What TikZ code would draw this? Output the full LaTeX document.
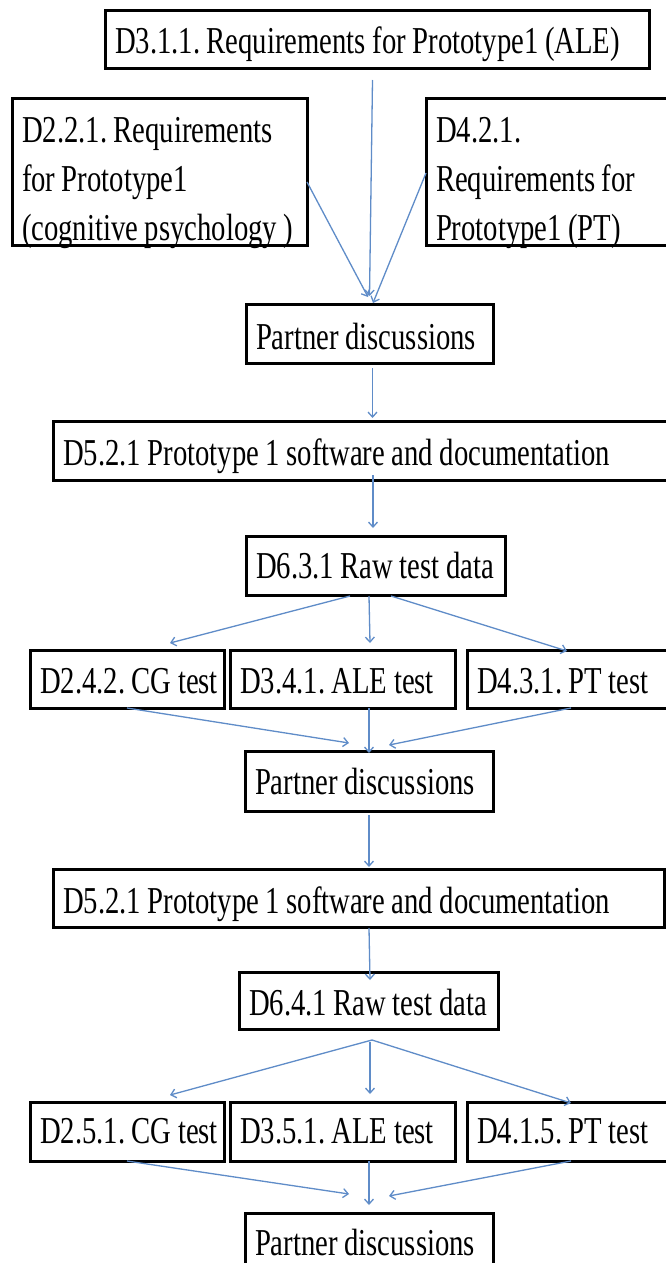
\documentclass[tikz,border=0pt]{standalone}
\usepackage{fontspec}
\setmainfont{Liberation Serif}[FakeStretch=0.755]
\usetikzlibrary{arrows.meta,calc}
\definecolor{arr}{RGB}{95,140,200}
\newcommand{\boxfont}{\fontsize{38}{49}\selectfont\frenchspacing}
\newcommand{\tline}[1]{\mbox{\spaceskip=6.5pt\relax\xspaceskip=6.5pt\relax #1}}
\begin{document}
\begin{tikzpicture}[x=1pt,y=-1pt,
  box/.style={draw=black,line width=3pt,rectangle,anchor=north west,
    inner xsep=10pt,inner ysep=0pt,outer sep=0pt,align=left,
    text height=43pt,font=\boxfont},
  link/.style={draw=arr,line width=1.3pt,-{Straight Barb[length=5pt,width=9pt]}}]
\clip (0,0) rectangle (666,1263);
\fill[white] (0,0) rectangle (666,1263);
% boxes
\node[box,minimum width=544pt,text width=524pt,text depth=15pt] (A) at (105,11) {\tline{D3.1.1. Requirements for Prototype1 (ALE)}};
\node[box,minimum width=295pt,text width=275pt,text height=44pt,text depth=103pt] (B) at (12,98) {\tline{D2.2.1. Requirements}\\\tline{for Prototype1}\\\tline{(cognitive psychology )}};
\node[box,minimum width=300pt,text width=280pt,text height=44pt,text depth=103pt] (C) at (426,98) {\tline{D4.2.1.}\\\tline{Requirements for}\\\tline{Prototype1 (PT)}};
\node[box,minimum width=247pt,text width=227pt,text height=45pt,text depth=14pt] (P1) at (246,304) {\tline{Partner discussions}};
\node[box,minimum width=660pt,text width=640pt,text height=44pt,text depth=15pt] (D5a) at (53,421) {\tline{D5.2.1 Prototype 1 software and documentation}};
\node[box,minimum width=259pt,text width=239pt,text height=42pt,text depth=17pt] (D63) at (246,536) {\tline{D6.3.1 Raw test data}};
\node[box,minimum width=194pt,text width=174pt,text depth=15pt] (D242) at (30,650) {\tline{D2.4.2. CG test}};
\node[box,minimum width=225pt,text width=205pt,text depth=15pt] (D341) at (230,650) {\tline{D3.4.1. ALE test}};
\node[box,minimum width=260pt,text width=240pt,text depth=15pt] (D431) at (467,650) {\tline{D4.3.1. PT test}};
\node[box,minimum width=248pt,text width=228pt,text depth=17pt] (P2) at (245,751) {\tline{Partner discussions}};
\node[box,minimum width=611pt,text width=591pt,text height=44pt,text depth=14pt] (D5b) at (53,869) {\tline{D5.2.1 Prototype 1 software and documentation}};
\node[box,minimum width=259pt,text width=239pt,text depth=14pt] (D641) at (239,972) {\tline{D6.4.1 Raw test data}};
\node[box,minimum width=194pt,text width=174pt,text height=41pt,text depth=18pt] (D251) at (30,1102) {\tline{D2.5.1. CG test}};
\node[box,minimum width=225pt,text width=205pt,text height=41pt,text depth=18pt] (D351) at (230,1102) {\tline{D3.5.1. ALE test}};
\node[box,minimum width=260pt,text width=240pt,text height=41pt,text depth=18pt] (D415) at (467,1102) {\tline{D4.1.5. PT test}};
\node[box,minimum width=248pt,text width=228pt,text height=42pt,text depth=20pt] (P3) at (245,1213) {\tline{Partner discussions}};
% connectors
\draw[link] ($(A.south)+(-4.5,11)$) -- ($(P1.north)+(0,-8)$);
\draw[link] ($(B.east)+(0,10.5)$) -- ($(P1.north)+(-1.5,-7)$);
\draw[link] ($(C.west)+(0,1.5)$) -- ($(P1.north)+(3.5,-1)$);
\draw[link] ($(P1.south)+(3,5)$) -- ($(D5a.north)+(-10.5,-3)$);
\draw[link] ($(D5a.south)+(-10,-5)$) -- ($(D63.north)+(-2.5,-8)$);
\draw[link] ($(D63.south)+(-25.5,1)$) -- ($(D242.north)+(43,-7)$);
\draw[link] ($(D63.south)+(-6.5,1)$) -- ($(D341.north)+(27.5,-7)$);
\draw[link] ($(D63.south)+(15.5,1)$) -- ($(D431.north)+(-30,1)$);
\draw[link] (D242.south) -- ($(P2.north)+(-20,-8)$);
\draw[link] ($(D341.south)+(26.5,0)$) -- ($(P2.north)+(0,2)$);
\draw[link] ($(D431.south)+(-26,0)$) -- ($(P2.north)+(20,-6)$);
\draw[link] ($(P2.south)+(0,4)$) -- ($(D5b.north)+(10.5,-2)$);
\draw[link] ($(D5b.south)+(10.5,1)$) -- ($(D641.north)+(1.5,8)$);
\draw[link] ($(D641.south)+(3.5,11)$) -- ($(D251.north)+(43,-7)$);
\draw[link] ($(D641.south)+(1.5,13)$) -- ($(D351.north)+(27.5,-8)$);
\draw[link] ($(D641.south)+(3.5,11)$) -- ($(D415.north)+(-26,1)$);
\draw[link] (D251.south) -- ($(P3.north)+(-20,-19)$);
\draw[link] ($(D351.south)+(26.5,0)$) -- ($(P3.north)+(0,-8)$);
\draw[link] ($(D415.south)+(-26,0)$) -- ($(P3.north)+(20,-17)$);
\end{tikzpicture}
\end{document}
